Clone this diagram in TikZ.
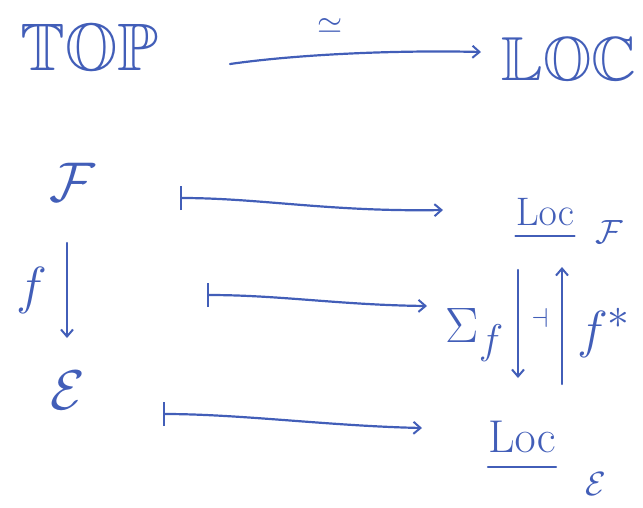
\documentclass[tikz,border=0pt]{standalone}
\usepackage{amssymb}
\usetikzlibrary{arrows.meta}
\definecolor{ink}{RGB}{66,94,184}
\tikzset{
  every node/.style={text=ink, inner sep=0pt, font=\Huge, transform shape},
  stroke/.style={draw=ink, line width=2.2pt, line cap=round},
  barb/.style={-{Straight Barb[length=7pt,width=12pt,line width=2pt]}},
  mapsto/.style={stroke, {Bar[width=24pt,line width=2pt]}-{Straight Barb[length=7pt,width=12pt,line width=2pt]}},
  big/.style={scale=2.25},
  mid/.style={scale=1.6},
  sub/.style={scale=1.35},
}
\begin{document}
\begin{tikzpicture}[x=1pt,y=-1pt]
  \useasboundingbox (0,0) rectangle (643,507);

  % top row: equivalence of categories
  \node[scale=2.7] (top) at (90,53) {$\mathbb{TOP}$};
  \node[scale=2.5] (loc) at (569,64) {$\mathbb{LOC}$};
  \coordinate (ta) at (230,64);
  \coordinate (tb) at (481,52);
  \draw[stroke, barb] (ta) .. controls (300,54) and (400,50) .. (tb);
  \node[scale=1.3] (eq) at (330,26) {$\simeq$};

  % left column: a geometric morphism
  \node[big] (F) at (72,182) {$\mathcal{F}$};
  \node[big] (E) at (68,390) {$\mathcal{E}$};
  \coordinate (fa) at (67,243);
  \coordinate (fb) at (67,338);
  \draw[stroke, barb] (fa) -- (fb);
  \node[scale=2.1] (flab) at (32,290) {$f$};

  % right column: the locale categories and the adjunction
  \node[mid] (LF) at (545,212) {$\mathrm{Loc}$};
  \draw[stroke] (LF.south west) ++(0,10) coordinate (uf1) -- (LF.south east |- uf1);
  \node[sub] (LFs) at (609,232) {$\mathcal{F}$};
  \node[scale=1.85] (LE) at (522,437) {$\mathrm{Loc}$};
  \draw[stroke] (LE.south west) ++(0,14) coordinate (ue1) -- (LE.south east |- ue1);
  \node[sub] (LEs) at (596,484) {$\mathcal{E}$};
  \coordinate (da) at (518,270);
  \coordinate (db) at (518,378);
  \coordinate (ua) at (562,384);
  \coordinate (ub) at (562,267);
  \draw[stroke, barb] (da) -- (db);
  \draw[stroke, barb] (ua) -- (ub);
  \node[scale=2.0] (sig) at (475,335) {$\Sigma_f$};
  \node[scale=1.1] (adj) at (540,318) {$\dashv$};
  \node[scale=2.1] (fst) at (604,333) {$f^{*}$};

  % maps-to arrows between the columns
  \coordinate (r1a) at (180,198);
  \coordinate (r1b) at (443,210);
  \coordinate (r2a) at (207,295);
  \coordinate (r2b) at (427,306);
  \coordinate (r3a) at (163,414);
  \coordinate (r3b) at (422,428);
  \draw[mapsto] (r1a) .. controls (260,198) and (330,212) .. (r1b);
  \draw[mapsto] (r2a) .. controls (280,295) and (340,305) .. (r2b);
  \draw[mapsto] (r3a) .. controls (240,414) and (330,426) .. (r3b);
\end{tikzpicture}
\end{document}
